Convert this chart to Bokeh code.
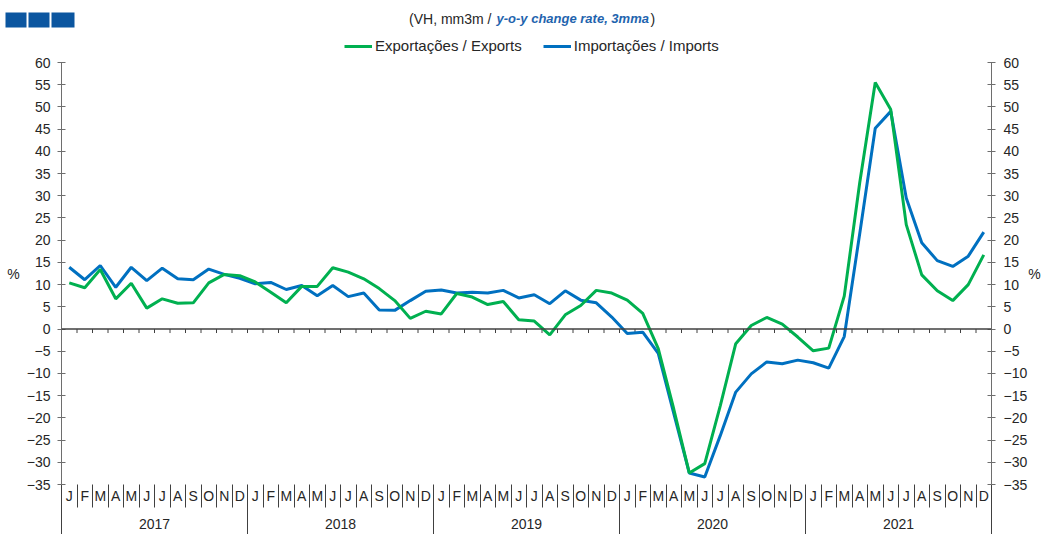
from bokeh.plotting import figure
from bokeh.layouts import column, row
from bokeh.models import (Range1d, LinearAxis, FixedTicker, Legend, LegendItem,
                          Label, Span)
from bokeh.embed import file_html
from bokeh.resources import INLINE

# ---------------- data ----------------
years = ["2017", "2018", "2019", "2020", "2021"]
month_letters = ["J", "F", "M", "A", "M", "J", "J", "A", "S", "O", "N", "D"]

exports = [10.4, 9.3, 13.4, 6.8, 10.3, 4.7, 6.8, 5.8, 5.9, 10.4, 12.3, 12.0,
           10.6, 8.3, 5.9, 9.6, 9.6, 13.8, 12.8, 11.3, 9.1, 6.4, 2.4, 4.0,
           3.4, 8.0, 7.2, 5.5, 6.2, 2.1, 1.8, -1.3, 3.2, 5.3, 8.7, 8.1,
           6.5, 3.5, -4.4, -18.0, -32.4, -30.3, -17.3, -3.3, 0.8, 2.6, 1.1, -1.8,
           -4.9, -4.3, 7.4, 33.0, 55.5, 49.4, 23.5, 12.2, 8.6, 6.4, 10.0, 16.7]

imports = [13.9, 11.1, 14.3, 9.4, 13.9, 10.9, 13.7, 11.3, 11.1, 13.5, 12.3, 11.4,
           10.2, 10.5, 8.9, 9.8, 7.5, 9.8, 7.3, 8.1, 4.3, 4.2, 6.4, 8.5,
           8.8, 8.1, 8.3, 8.1, 8.7, 7.0, 7.7, 5.7, 8.6, 6.5, 5.9, 2.7,
           -1.0, -0.7, -5.5, -19.0, -32.4, -33.3, -24.0, -14.2, -10.1, -7.4, -7.8, -7.0,
           -7.6, -8.8, -1.7, 21.5, 45.2, 49.0, 29.5, 19.4, 15.4, 14.1, 16.4, 21.8]

series_names = ["Exportações / Exports", "Importações / Imports"]
y_ticks = list(range(-35, 61, 5))
y_min, y_max = -35, 60

# ---------------- layout constants ----------------
W = 1043
HEAD_H = 54
FL, FR = 61, 991
FRAME_H = 422
TOP_B, BOT_B = 8, 50

GREEN = "#00B050"
BLUE = "#0070C0"
AX = "#6E6E6E"
SEP = "#404040"
TXT = "#262626"
FONT = "Liberation Sans"
FS = "14px"

n = len(exports)
xs = list(range(n))

# ---------------- header (logo, subtitle, legend) ----------------
h = figure(frame_width=W, frame_height=HEAD_H, min_border=0,
           output_backend="svg", toolbar_location=None,
           x_range=Range1d(0, W), y_range=Range1d(HEAD_H, 0),
           x_axis_location=None, y_axis_location=None)
h.outline_line_color = None
h.grid.visible = False

h.quad(left=[5, 28, 51], right=[26, 49, 74], top=[12, 12, 12], bottom=[27, 27, 27],
       fill_color="#0B56A0", line_color=None)

h.add_layout(Label(x=491, y=18, text="(VH, mm3m /", text_align="right",
                   text_baseline="middle", text_font=FONT, text_font_size=FS,
                   text_color=TXT))
h.add_layout(Label(x=496, y=18, text="y-o-y change rate, 3mma", text_align="left",
                   text_baseline="middle", text_font=FONT, text_font_size="13px",
                   text_font_style="bold italic", text_color="#1F64AE"))
h.add_layout(Label(x=650, y=18, text=")", text_align="left",
                   text_baseline="middle", text_font=FONT, text_font_size=FS,
                   text_color=TXT))

# legend keys (renderers kept outside the visible header range)
lg_g = h.line(x=[-200, -100], y=[-200, -200], line_color=GREEN, line_width=3)
lg_b = h.line(x=[-200, -100], y=[-200, -200], line_color=BLUE, line_width=3)
legend = Legend(items=[LegendItem(label=series_names[0], renderers=[lg_g]),
                       LegendItem(label=series_names[1], renderers=[lg_b])],
                orientation="horizontal", location=(344, 0),
                border_line_color=None, background_fill_alpha=0,
                label_text_font_size="15px", label_text_font=FONT,
                label_text_color=TXT,
                glyph_width=28, glyph_height=16, label_height=16,
                label_standoff=3, spacing=21, padding=0, margin=0)
h.add_layout(legend)

# ---------------- main chart ----------------
p = figure(frame_width=FR - FL, frame_height=FRAME_H,
           output_backend="svg", toolbar_location=None,
           x_range=Range1d(-0.5, n - 0.5), y_range=Range1d(y_min, y_max),
           min_border_left=FL, min_border_right=W - FR,
           min_border_top=TOP_B, min_border_bottom=BOT_B,
           x_axis_location=None, y_axis_location=None)
p.outline_line_color = None
p.grid.visible = False

def make_yaxis(standoff, label_standoff):
    return LinearAxis(ticker=FixedTicker(ticks=y_ticks),
                      major_tick_in=4, major_tick_out=4,
                      minor_tick_line_color=None,
                      axis_line_color=AX, major_tick_line_color=AX,
                      major_label_text_font_size=FS,
                      major_label_text_font=FONT,
                      major_label_text_color=TXT,
                      major_label_standoff=standoff,
                      axis_label="%", axis_label_orientation="horizontal",
                      axis_label_standoff=label_standoff,
                      axis_label_text_font=FONT,
                      axis_label_text_font_size=FS,
                      axis_label_text_font_style="normal",
                      axis_label_text_color=TXT)

p.add_layout(make_yaxis(7, 4), "left")
p.add_layout(make_yaxis(8, -2), "right")

# month axis: labels at month centres, separators as minor ticks at boundaries
month_labels = {i: month_letters[i % 12] for i in xs}
bounds = [i - 0.5 for i in range(n + 1)]
MON_SEP = 23
mon_axis = LinearAxis(ticker=FixedTicker(ticks=xs, minor_ticks=bounds),
                      major_label_overrides=month_labels,
                      major_tick_in=0, major_tick_out=0,
                      minor_tick_in=0, minor_tick_out=MON_SEP,
                      minor_tick_line_color=SEP,
                      axis_line_color=None,
                      major_label_text_font_size=FS,
                      major_label_text_font=FONT,
                      major_label_text_color=TXT,
                      major_label_standoff=3 - MON_SEP)
p.add_layout(mon_axis, "below")

# year axis
yr_vals = [int(y) for y in years]
p.extra_x_ranges = {"yr": Range1d(yr_vals[0] - 0.5, yr_vals[-1] + 0.5)}
YR_SEP = 32
yr_axis = LinearAxis(x_range_name="yr",
                     ticker=FixedTicker(ticks=yr_vals,
                                        minor_ticks=[v - 0.5 for v in yr_vals] + [yr_vals[-1] + 0.5]),
                     major_label_overrides={v: s for v, s in zip(yr_vals, years)},
                     major_tick_in=0, major_tick_out=0,
                     minor_tick_in=0, minor_tick_out=YR_SEP,
                     minor_tick_line_color=SEP,
                     axis_line_color=None,
                     major_label_text_font_size=FS,
                     major_label_text_font=FONT,
                     major_label_text_color=TXT,
                     major_label_standoff=12 - YR_SEP)
p.add_layout(yr_axis, "below")

# zero line with small ticks at month boundaries
p.add_layout(Span(location=0, dimension="width", line_color=SEP, line_width=1.5))
p.segment(x0=bounds, y0=[0] * len(bounds), x1=bounds, y1=[-0.9] * len(bounds),
          line_color=SEP, line_width=1)

p.line(xs, imports, line_color=BLUE, line_width=3)
p.line(xs, exports, line_color=GREEN, line_width=3)

layout = column(row(h), p, spacing=0)
open("out.html", "w").write(file_html(layout, INLINE))
